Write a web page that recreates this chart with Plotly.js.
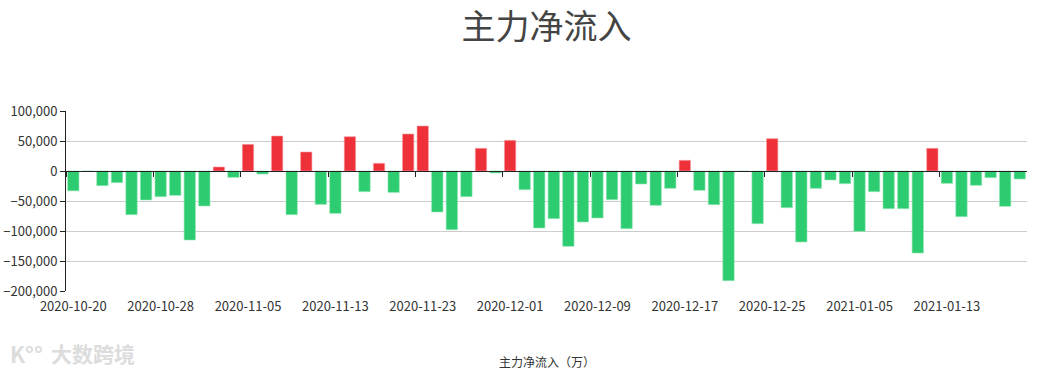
<!DOCTYPE html>
<html>
<head>
<meta charset="utf-8">
<script src="https://cdn.plot.ly/plotly-3.0.1.min.js"></script>
<style>html,body{margin:0;padding:0;background:#fff;}#chart{width:1042px;height:372px;}</style>
</head>
<body>
<div id="chart"></div>
<script>
const dates = [
  "2020-10-20","2020-10-21","2020-10-22","2020-10-23","2020-10-26","2020-10-27","2020-10-28","2020-10-29","2020-10-30",
  "2020-11-02","2020-11-03","2020-11-04","2020-11-05","2020-11-06","2020-11-09","2020-11-10","2020-11-11","2020-11-12","2020-11-13",
  "2020-11-16","2020-11-17","2020-11-18","2020-11-19","2020-11-20","2020-11-23","2020-11-24","2020-11-25","2020-11-26","2020-11-27","2020-11-30",
  "2020-12-01","2020-12-02","2020-12-03","2020-12-04","2020-12-07","2020-12-08","2020-12-09","2020-12-10","2020-12-11",
  "2020-12-14","2020-12-15","2020-12-16","2020-12-17","2020-12-18","2020-12-21","2020-12-22","2020-12-23","2020-12-24","2020-12-25",
  "2020-12-28","2020-12-29","2020-12-30","2020-12-31","2021-01-04","2021-01-05","2021-01-06","2021-01-07","2021-01-08",
  "2021-01-11","2021-01-12","2021-01-13","2021-01-14","2021-01-15","2021-01-18","2021-01-19","2021-01-20"
];
const netInflow = [
  -33000, -400, -24400, -19400, -72800, -48300, -42800, -40600, -115000,
  -58300, 6700, -10600, 44400, -5000, 58300, -72800, 31700, -55600, -70600,
  57200, -34400, 12800, -35600, 61700, 75000, -68300, -97800, -42800, 37800, -3300,
  51100, -31100, -95000, -79400, -125600, -85000, -78300, -47800, -96100,
  -21700, -57200, -28900, 17800, -32200, -56100, -182800, -800, -87800, 53900,
  -61100, -118300, -28900, -15000, -21100, -100600, -34400, -62800, -62800,
  -136700, 37800, -20600, -76100, -23900, -11100, -58900, -13300
];
const yTicks = [-200000, -150000, -100000, -50000, 0, 50000, 100000];
const labelStep = 6;

const RED = '#ee3038', GREEN = '#2ecc71';
const RED_EDGE = '#f5a0a4', GREEN_EDGE = '#8fe6b4';

const labelDates = dates.filter((d, i) => i % labelStep === 0);
const boundaryTicks = dates.map((d, i) => i - 0.5).filter((v, i) => i % labelStep === 0);

const trace = {
  type: 'bar',
  x: dates,
  y: netInflow,
  marker: {
    color: netInflow.map(v => v >= 0 ? RED : GREEN),
    line: {color: netInflow.map(v => v >= 0 ? RED_EDGE : GREEN_EDGE), width: 0.6}
  },
  hoverinfo: 'x+y'
};

const font = '"Noto Sans CJK SC", "Microsoft YaHei", sans-serif';

const layout = {
  width: 1042, height: 372,
  margin: {l: 66, r: 15, t: 111, b: 81},
  paper_bgcolor: '#fff', plot_bgcolor: '#fff',
  showlegend: false,
  bargap: 0.22,
  title: {
    text: '主力净流入',
    font: {family: font, size: 34, color: '#444'},
    xref: 'paper', x: 0.5, xanchor: 'center',
    yref: 'container', y: 1 - 27/372, yanchor: 'middle'
  },
  xaxis: {
    type: 'category',
    range: [-0.5, dates.length - 0.5],
    tickmode: 'array', tickvals: labelDates, ticktext: labelDates,
    showgrid: false, showline: false, zeroline: false, ticks: '',
    ticklabelstandoff: 6,
    tickfont: {family: font, size: 13, color: '#333'},
    fixedrange: true
  },
  xaxis2: {
    overlaying: 'x', anchor: 'free', position: 2/3,
    type: 'linear',
    range: [-0.5, dates.length - 0.5],
    tickmode: 'array', tickvals: boundaryTicks,
    showticklabels: false, showgrid: false, zeroline: false,
    showline: true, linecolor: '#222', linewidth: 1,
    ticks: 'outside', ticklen: 5, tickcolor: '#222', tickwidth: 1
  },
  yaxis: {
    range: [-200000, 100000],
    tickmode: 'array', tickvals: yTicks,
    tickformat: ',d',
    showline: true, linecolor: '#222', linewidth: 1,
    ticks: 'outside', ticklen: 5, tickcolor: '#222',
    gridcolor: '#ccc', zeroline: false,
    tickfont: {family: font, size: 13, color: '#333'}
  },
  annotations: [
    {
      text: '主力净流入（万）', xref: 'paper', yref: 'paper',
      x: 0.5, y: -70/180, xanchor: 'center', yanchor: 'middle', showarrow: false,
      font: {family: font, size: 12, color: '#333'}
    },
    {
      text: '<b>大数跨境</b>', xref: 'paper', yref: 'paper',
      x: (49 - 66)/961, y: -62/180, xanchor: 'left', yanchor: 'middle', showarrow: false,
      font: {family: font, size: 21, color: '#dcdcdc'}
    },
    {
      text: '<b>K°°</b>', xref: 'paper', yref: 'paper',
      x: (8 - 66)/961, y: -62/180, xanchor: 'left', yanchor: 'middle', showarrow: false,
      font: {family: font, size: 22, color: '#dcdcdc'}
    }
  ]
};

const extra = {type: 'scatter', x: [0], y: [0], xaxis: 'x2', yaxis: 'y', mode: 'markers', marker: {opacity: 0}, hoverinfo: 'skip'};

Plotly.newPlot('chart', [trace, extra], layout, {displayModeBar: false});
</script>
</body>
</html>
